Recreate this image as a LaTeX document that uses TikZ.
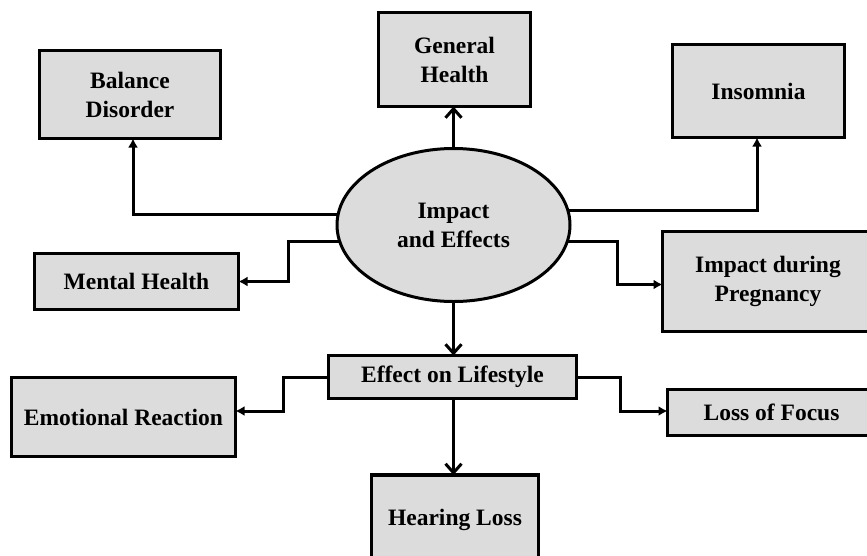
\documentclass[tikz,border=0pt]{standalone}
\usepackage{fontspec}
\setmainfont{Liberation Serif}
\usetikzlibrary{shapes.geometric,arrows.meta}
\definecolor{boxgray}{RGB}{220,220,220}
\begin{document}
\begin{tikzpicture}[x=1pt,y=-1pt,
  every node/.style={font=\bfseries\fontsize{23.5}{29}\selectfont, align=center, inner sep=0pt, outer sep=0pt},
  box/.style={draw, line width=3.2pt, fill=boxgray, rectangle},
  conn/.style={line width=3pt, -{Latex[length=9pt,width=10pt]}},
  connv/.style={line width=3pt, -{Straight Barb[length=9pt,width=16pt]}},
]
\fill[white] (0,0) rectangle (867,555);
\useasboundingbox (0,0) rectangle (867,555);

\node[draw, ellipse, line width=3pt, fill=boxgray, minimum width=233pt, minimum height=153pt] (ell) at (453.5,225) {Impact\\and Effects};

\node[box, minimum width=181pt, minimum height=88pt] (bal) at (130,94.5) {Balance\\Disorder};
\node[box, minimum width=152pt, minimum height=94pt] (gen) at (454.5,59.5) {General\\Health};
\node[box, minimum width=172pt, minimum height=93pt] (ins) at (758.5,91) {Insomnia};
\node[box, minimum width=204pt, minimum height=56pt] (men) at (136.5,281.5) {Mental Health};
\node[box, minimum width=211pt, minimum height=100pt] (preg) at (768,281.5) {Impact during\\Pregnancy};
\node[box, minimum width=248pt, minimum height=43pt] (eff) at (452.5,377) {Effect on Lifestyle};
\node[box, minimum width=224pt, minimum height=79pt] (emo) at (123.5,417) {Emotional Reaction};
\node[box, minimum width=208pt, minimum height=46pt] (loss) at (771.5,412.5) {Loss of Focus};
\node[box, minimum width=167pt, minimum height=90pt] (hear) at (455,520) {Hearing Loss};

\draw[conn] (ell.175) -| ([xshift=3pt]bal.south);
\draw[conn] (ell.7) -| ([xshift=-1.5pt]ins.south);
\draw[connv] (ell.north) -- (ell.north |- gen.south);
\draw[conn] (ell.188) -- ++(-51,0) |- (men.east);
\draw[conn] (ell.-8) -- ++(50,0) |- ([yshift=-3pt]preg.west);
\draw[connv] (ell.south) -- (ell.south |- eff.north);
\draw[conn] (eff.west) -- ++(-45,0) |- ([yshift=6pt]emo.east);
\draw[conn] (eff.east) -- ++(44,0) |- ([yshift=1.5pt]loss.west);
\draw[connv] (eff.south -| ell.south) -- (ell.south |- hear.north);
\end{tikzpicture}
\end{document}
